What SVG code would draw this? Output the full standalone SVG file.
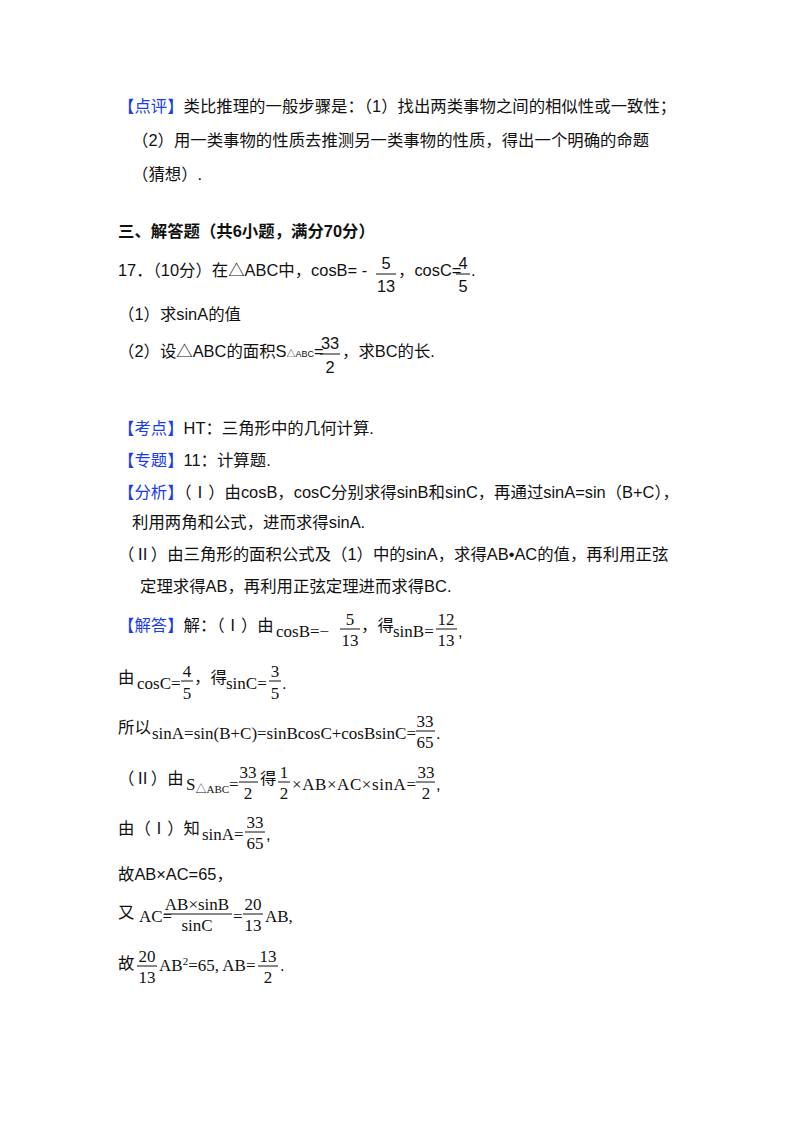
<svg xmlns="http://www.w3.org/2000/svg" width="800" height="1133" viewBox="0 0 800 1133">
<style>
text{font-family:"Liberation Sans","Noto Sans CJK SC",sans-serif;font-size:16.4px;fill:#111}
.b{fill:#1a3cf0}
.h{font-weight:bold}
.m{font-family:"Liberation Serif","Noto Sans CJK SC",serif;font-size:17px}
.c{text-anchor:middle}
line{stroke:#111;stroke-width:1}
</style>
<rect width="800" height="1133" fill="#fff"/>
<g id="review">
<text x="118" y="112"><tspan class="b">【点评】</tspan>类比推理的一般步骤是：（1）找出两类事物之间的相似性或一致性；</text>
<text x="132" y="146">（2）用一类事物的性质去推测另一类事物的性质，得出一个明确的命题</text>
<text x="132" y="180">（猜想）.</text>
</g>
<g id="heading"><text class="h" x="118" y="237">三、解答题（共6小题，满分70分）</text></g>
<g id="problem">
<text x="118" y="276">17．（10分）在△ABC中，cosB= -</text>
<text class="c" x="386" y="269">5</text><line x1="376" y1="274" x2="396" y2="274"/><text class="c" x="386" y="292">13</text>
<text x="398" y="276">，cosC=</text>
<text class="c" x="463" y="269">4</text><line x1="456" y1="274" x2="470" y2="274"/><text class="c" x="463" y="292">5</text>
<text x="471" y="276">.</text>
<text x="118" y="320">（1）求sinA的值</text>
<text x="118" y="357">（2）设△ABC的面积S<tspan font-size="9">△ABC</tspan>=</text>
<text class="c" x="330" y="349">33</text><line x1="320" y1="354" x2="340" y2="354"/><text class="c" x="330" y="373">2</text>
<text x="342" y="357">，求BC的长.</text>
</g>
<g id="analysis">
<text x="118" y="434"><tspan class="b">【考点】</tspan>HT：三角形中的几何计算.</text>
<text x="118" y="466"><tspan class="b">【专题】</tspan>11：计算题.</text>
<text x="118" y="498"><tspan class="b">【分析】</tspan>（Ⅰ）由cosB，cosC分别求得sinB和sinC，再通过sinA=sin（B+C），</text>
<text x="132" y="528">利用两角和公式，进而求得sinA.</text>
<text x="118" y="560">（Ⅱ）由三角形的面积公式及（1）中的sinA，求得AB•AC的值，再利用正弦</text>
<text x="140" y="592">定理求得AB，再利用正弦定理进而求得BC.</text>
</g>
<g id="solution">
<text x="118" y="631"><tspan class="b">【解答】</tspan>解：（Ⅰ）由</text>
<text class="m" x="276" y="637">cosB=−</text>
<text class="m c" x="350" y="625">5</text><line x1="340" y1="629" x2="360" y2="629"/><text class="m c" x="350" y="646">13</text>
<text x="361" y="631">，得</text>
<text class="m" x="393" y="637">sinB=</text>
<text class="m c" x="446" y="625">12</text><line x1="436" y1="629" x2="457" y2="629"/><text class="m c" x="446" y="646">13</text>
<text x="458" y="637">,</text>

<text x="118" y="683">由</text>
<text class="m" x="137" y="689">cosC=</text>
<text class="m c" x="187" y="677">4</text><line x1="181" y1="681" x2="193" y2="681"/><text class="m c" x="187" y="699">5</text>
<text x="194" y="683">，得</text>
<text class="m" x="226" y="689">sinC=</text>
<text class="m c" x="275" y="677">3</text><line x1="269" y1="681" x2="281" y2="681"/><text class="m c" x="275" y="699">5</text>
<text x="282" y="689">.</text>

<text x="118" y="733">所以</text>
<text class="m" x="152" y="739" textLength="264" lengthAdjust="spacing">sinA=sin(B+C)=sinBcosC+cosBsinC=</text>
<text class="m c" x="425" y="727">33</text><line x1="416" y1="731" x2="435" y2="731"/><text class="m c" x="425" y="748">65</text>
<text x="436" y="739">.</text>

<text x="118" y="784">（Ⅱ）由</text>
<text class="m" x="186" y="790">S<tspan font-size="11" dy="3">△ABC</tspan><tspan dy="-3">=</tspan></text>
<text class="m c" x="248" y="778">33</text><line x1="239" y1="782" x2="258" y2="782"/><text class="m c" x="248" y="799">2</text>
<text x="260" y="784">得</text>
<text class="m c" x="284" y="778">1</text><line x1="278" y1="782" x2="290" y2="782"/><text class="m c" x="284" y="799">2</text>
<text class="m" x="292" y="790" textLength="124" lengthAdjust="spacing">×AB×AC×sinA=</text>
<text class="m c" x="426" y="778">33</text><line x1="416" y1="782" x2="435" y2="782"/><text class="m c" x="426" y="799">2</text>
<text x="436" y="790">,</text>

<text x="118" y="834">由（Ⅰ）知</text>
<text class="m" x="202" y="840">sinA=</text>
<text class="m c" x="255" y="828">33</text><line x1="245" y1="832" x2="265" y2="832"/><text class="m c" x="255" y="849">65</text>
<text x="266" y="840">,</text>

<text x="118" y="880">故AB×AC=65，</text>

<text x="118" y="918">又</text>
<text class="m" x="139" y="922">AC=</text>
<text class="m c" x="197" y="910">AB×sinB</text><line x1="164" y1="914" x2="232" y2="914"/><text class="m c" x="197" y="931">sinC</text>
<text class="m" x="233" y="922">=</text>
<text class="m c" x="253" y="910">20</text><line x1="243" y1="914" x2="263" y2="914"/><text class="m c" x="253" y="931">13</text>
<text class="m" x="265" y="922">AB,</text>

<text x="118" y="969">故</text>
<text class="m c" x="147" y="962">20</text><line x1="137" y1="966" x2="157" y2="966"/><text class="m c" x="147" y="983">13</text>
<text class="m" x="159" y="971">AB<tspan font-size="11" dy="-6">2</tspan><tspan dy="6">=65,  AB=</tspan></text>
<text class="m c" x="268" y="962">13</text><line x1="258" y1="966" x2="278" y2="966"/><text class="m c" x="268" y="983">2</text>
<text x="280" y="971">.</text>
</g>
</svg>
